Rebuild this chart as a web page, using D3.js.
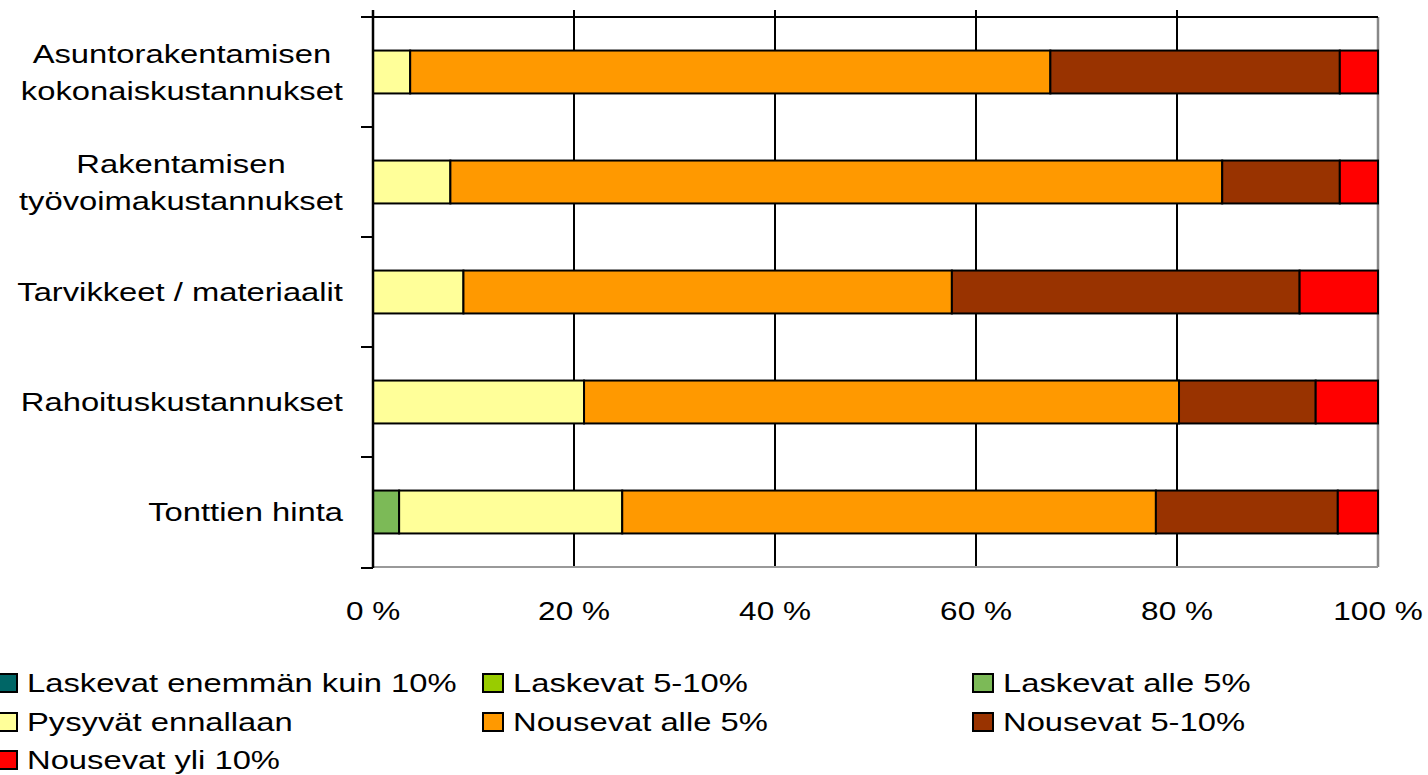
<!DOCTYPE html>
<html>
<head>
<meta charset="utf-8">
<script src="https://cdn.jsdelivr.net/npm/d3@7"></script>
<style>
  html, body { margin: 0; padding: 0; background: #fff; }
  svg { display: block; }
  text { font-family: "Liberation Sans", Arial, sans-serif; fill: #000; }
</style>
</head>
<body>
<svg id="chart" width="1428" height="775"></svg>
<script>
// Categories (top to bottom), each label split into its display lines
const categories = [
  "Asuntorakentamisen kokonaiskustannukset",
  "Rakentamisen työvoimakustannukset",
  "Tarvikkeet / materiaalit",
  "Rahoituskustannukset",
  "Tonttien hinta"
];
const categoryLines = [
  ["Asuntorakentamisen", "kokonaiskustannukset"],
  ["Rakentamisen", "työvoimakustannukset"],
  ["Tarvikkeet / materiaalit"],
  ["Rahoituskustannukset"],
  ["Tonttien hinta"]
];

// Series names, in stacking order
const seriesNames = [
  "Laskevat enemmän kuin 10%",
  "Laskevat 5-10%",
  "Laskevat alle 5%",
  "Pysyvät ennallaan",
  "Nousevat alle 5%",
  "Nousevat 5-10%",
  "Nousevat yli 10%"
];
const seriesColors = ["#006666", "#99CC00", "#7CBA57", "#FFFF99", "#FF9900", "#993300", "#FF0000"];

// Shares (%) per series, one value per category
const laskevatYli10 = [0, 0, 0, 0, 0];
const laskevat5to10 = [0, 0, 0, 0, 0];
const laskevatAlle5 = [0, 0, 0, 0, 2.6];
const pysyvat       = [3.7, 7.7, 9.0, 21.0, 22.2];
const nousevatAlle5 = [63.7, 76.8, 48.6, 59.2, 53.1];
const nousevat5to10 = [28.8, 11.7, 34.6, 13.6, 18.1];
const nousevatYli10 = [3.8, 3.8, 7.8, 6.2, 4.0];

const xTicks = [0, 20, 40, 60, 80, 100];
const xTickLabels = ["0 %", "20 %", "40 %", "60 %", "80 %", "100 %"];

const seriesValues = [laskevatYli10, laskevat5to10, laskevatAlle5, pysyvat, nousevatAlle5, nousevat5to10, nousevatYli10];
const rows = categories.map((c, i) => {
  const r = { category: c };
  seriesNames.forEach((s, j) => { r[s] = seriesValues[j][i]; });
  return r;
});

const svg = d3.select("#chart");
const plot = { left: 373, right: 1378, top: 17, bottom: 567 };
const stretchLabel = 1.31;   // glyphs are drawn horizontally widened
const stretchTick = 1.26;
const fontSize = 25;

const x = d3.scaleLinear().domain([0, 100]).range([plot.left, plot.right]);
const y = d3.scaleBand().domain(categories).range([plot.top, plot.bottom]).padding(0);
const barH = y.bandwidth() * 0.39;

const stack = d3.stack().keys(seriesNames);
const stacked = stack(rows);

// Vertical gridlines (drawn beneath the bars)
svg.append("g").selectAll("line")
  .data(xTicks.filter(t => t > 0 && t < 100))
  .join("line")
  .attr("x1", d => x(d)).attr("x2", d => x(d))
  .attr("y1", plot.top - 7).attr("y2", plot.bottom)
  .attr("stroke", "#000").attr("stroke-width", 2);

// Plot border: right and bottom in grey, top in black
svg.append("line")
  .attr("x1", plot.right).attr("x2", plot.right)
  .attr("y1", plot.top).attr("y2", plot.bottom)
  .attr("stroke", "#888").attr("stroke-width", 2.5);
svg.append("line")
  .attr("x1", plot.left).attr("x2", plot.right)
  .attr("y1", plot.bottom).attr("y2", plot.bottom)
  .attr("stroke", "#999").attr("stroke-width", 2);
svg.append("line")
  .attr("x1", plot.left - 12).attr("x2", plot.right)
  .attr("y1", plot.top).attr("y2", plot.top)
  .attr("stroke", "#000").attr("stroke-width", 2);

// Stacked bars
svg.append("g").selectAll("g")
  .data(stacked)
  .join("g")
  .attr("fill", (d, i) => seriesColors[i])
  .selectAll("rect")
  .data(d => d.filter(seg => seg[1] - seg[0] > 0))
  .join("rect")
  .attr("x", d => x(d[0]))
  .attr("width", d => x(d[1]) - x(d[0]))
  .attr("y", d => y(d.data.category) + (y.bandwidth() - barH) / 2)
  .attr("height", barH)
  .attr("stroke", "#000").attr("stroke-width", 2);

// Category axis line and ticks at band boundaries
svg.append("line")
  .attr("x1", plot.left).attr("x2", plot.left)
  .attr("y1", plot.top - 7).attr("y2", plot.bottom + 1)
  .attr("stroke", "#000").attr("stroke-width", 2.5);
const boundaries = categories.map(c => y(c)).concat([plot.bottom + 1]);
svg.append("g").selectAll("line")
  .data(boundaries)
  .join("line")
  .attr("x1", plot.left - 12).attr("x2", plot.left)
  .attr("y1", d => d).attr("y2", d => d)
  .attr("stroke", "#000").attr("stroke-width", 2);

// Category labels: lines centred on each other, block right-aligned
const labelRight = 343;
const lineGap = 37;
categories.forEach((c, i) => {
  const lines = categoryLines[i];
  const cy = y(c) + y.bandwidth() / 2;
  const g = svg.append("g");
  const texts = lines.map((ln, k) => {
    const yy = cy + (k - (lines.length - 1) / 2) * lineGap + fontSize * 0.36;
    return g.append("text")
      .attr("font-size", fontSize)
      .attr("text-anchor", "middle")
      .attr("data-y", yy)
      .text(ln);
  });
  const maxW = d3.max(texts, t => t.node().getComputedTextLength()) * stretchLabel;
  const cx = labelRight - maxW / 2;
  texts.forEach(t => {
    t.attr("transform", `translate(${cx},${t.attr("data-y")}) scale(${stretchLabel},1)`);
  });
});

// Percent axis labels
svg.append("g").selectAll("text")
  .data(xTicks)
  .join("text")
  .attr("font-size", fontSize)
  .attr("text-anchor", "middle")
  .attr("transform", d => `translate(${x(d)},620) scale(${stretchTick},1)`)
  .text((d, i) => xTickLabels[i]);

// Legend: three columns
const legendCols = [-3, 483, 973];
const legendRows = [683, 722, 760];
const legend = svg.append("g").selectAll("g")
  .data(seriesNames)
  .join("g")
  .attr("transform", (d, i) => `translate(${legendCols[i % 3]},${legendRows[Math.floor(i / 3)]})`);
legend.append("rect")
  .attr("x", 0).attr("y", -9).attr("width", 20).attr("height", 18)
  .attr("fill", (d, i) => seriesColors[i])
  .attr("stroke", "#000").attr("stroke-width", 2);
legend.append("text")
  .attr("font-size", fontSize)
  .attr("transform", `translate(30,${fontSize * 0.36}) scale(${stretchLabel},1)`)
  .text(d => d);
</script>
</body>
</html>
